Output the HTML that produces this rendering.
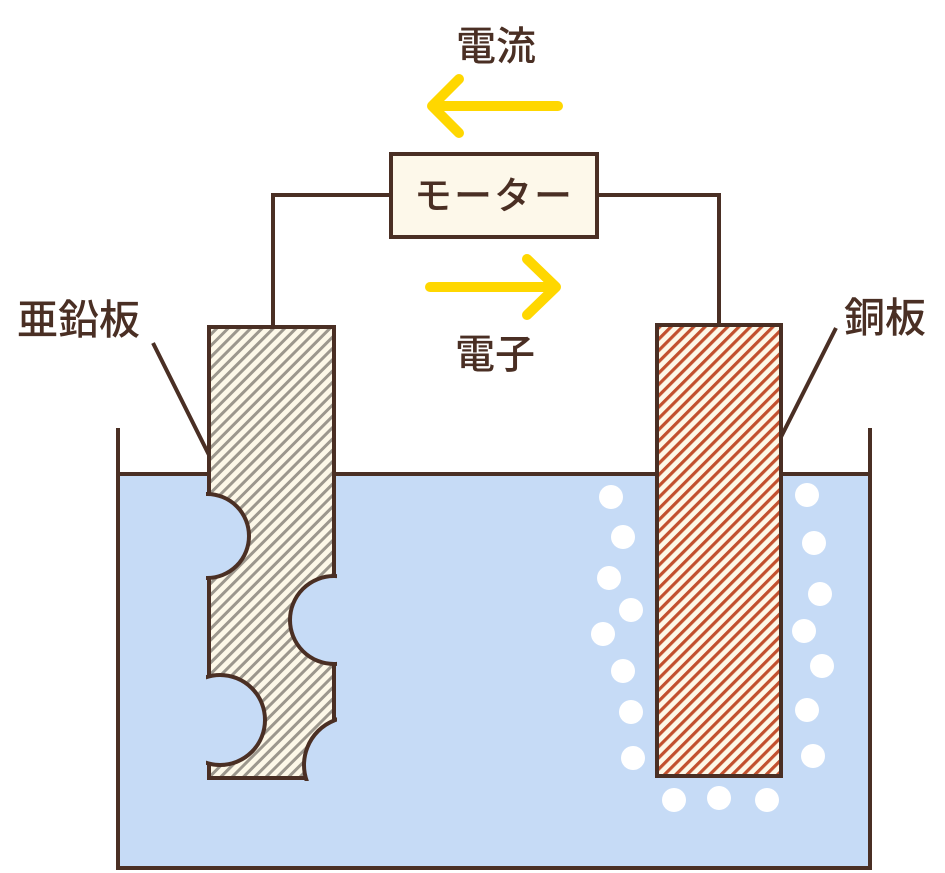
<!DOCTYPE html>
<html><head><meta charset="utf-8"><style>html,body{margin:0;padding:0;background:#fff}svg{display:block}</style></head><body>
<svg width="945" height="873" viewBox="0 0 945 873" xmlns="http://www.w3.org/2000/svg">
<defs>
<pattern id="hz" patternUnits="userSpaceOnUse" width="8" height="8" patternTransform="rotate(45)">
<rect width="8" height="8" fill="#fdf8e8"/><rect width="3" height="8" fill="#9c978d"/></pattern>
<pattern id="hc" patternUnits="userSpaceOnUse" width="8" height="8" patternTransform="rotate(45)">
<rect width="8" height="8" fill="#fdf8e8"/><rect width="3.2" height="8" fill="#c2502e"/></pattern>
<clipPath id="zc"><rect x="206" y="470" width="131" height="311"/></clipPath>
</defs>
<g font-family="'Liberation Sans','Noto Sans CJK JP',sans-serif" fill="#4a2f24" font-weight="500">
<rect x="118" y="474" width="752" height="394" fill="#c6dbf6"/>
<path d="M118 428 V868 H870 V428 M118 474 H870" fill="none" stroke="#4a2f24" stroke-width="4"/>
<path d="M273 327 V195 H391 M597 195 H719 V325" fill="none" stroke="#4a2f24" stroke-width="4"/>
<rect x="391" y="154" width="206" height="83" fill="#fdf8ea" stroke="#4a2f24" stroke-width="4"/>
<text x="494" y="209" font-size="38" text-anchor="middle" letter-spacing="2">モーター</text>
<text x="496" y="60" font-size="40" text-anchor="middle">電流</text>
<text x="495" y="368" font-size="40" text-anchor="middle">電子</text>
<text x="17" y="334" font-size="41">亜鉛板</text>
<text x="844" y="332" font-size="41">銅板</text>
<g stroke="#ffd700" stroke-width="10" stroke-linecap="round" stroke-linejoin="round" fill="none">
<path d="M558 106 H432 M459 79 L432 106 L459 133"/>
<path d="M430 287 H556 M527 259 L556 287 L527 315"/>
</g>
<path d="M153 343 L209 455 M836 328 L781 437" stroke="#4a2f24" stroke-width="4"/>
<rect x="209" y="327" width="125" height="451" fill="url(#hz)" stroke="#4a2f24" stroke-width="4"/>
<g clip-path="url(#zc)" fill="#c6dbf6" stroke="#4a2f24" stroke-width="4">
<circle cx="207" cy="536" r="42"/>
<circle cx="334" cy="620" r="44"/>
<circle cx="220" cy="720" r="45"/>
<circle cx="352" cy="765" r="48"/>
</g>
<rect x="657" y="325" width="124" height="451" fill="url(#hc)" stroke="#4a2f24" stroke-width="4"/>
<g fill="#fff">
<circle cx="611" cy="497" r="12"/><circle cx="623" cy="537" r="12"/><circle cx="609" cy="578" r="12"/><circle cx="631" cy="610" r="12"/><circle cx="603" cy="634" r="12"/><circle cx="623" cy="671" r="12"/><circle cx="631" cy="712" r="12"/><circle cx="633" cy="758" r="12"/>
<circle cx="807" cy="495" r="12"/><circle cx="814" cy="543" r="12"/><circle cx="820" cy="594" r="12"/><circle cx="804" cy="631" r="12"/><circle cx="822" cy="666" r="12"/><circle cx="807" cy="710" r="12"/><circle cx="813" cy="756" r="12"/>
<circle cx="674" cy="800" r="12"/><circle cx="719" cy="798" r="12"/><circle cx="767" cy="800" r="12"/>
</g>
</g>
</svg>
</body></html>
